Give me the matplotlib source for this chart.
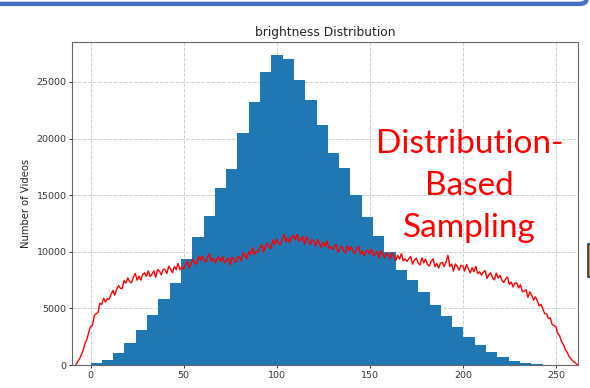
import numpy as np
import matplotlib
matplotlib.use('Agg')
import matplotlib.pyplot as plt
from matplotlib.patches import FancyBboxPatch, Rectangle

# ── Data ──────────────────────────────────────────────────────────────────────
# histogram: 42 bins over 0..255, counts per bin
BIN_LO, BIN_HI, N_BINS = 0, 255, 42
hist_counts = [170, 460, 1040, 1950, 3120, 4460, 5870, 7260, 9380, 11320,
               13150, 15640, 17350, 20480, 23260, 25900, 27350, 27030, 25170, 23410,
               21240, 18770, 17410, 15000, 13060, 11410, 9960, 8430, 7500, 6450,
               5320, 4360, 3380, 2500, 1750, 1200, 710, 390, 220, 90,
               20, 5]

# sampled distribution curve (red), one value per integer from -8 to 262
curve_start = -8
curve_vals = [
    0, 300, 520, 900, 1300, 1900, 2250, 2900,
    3420, 3500, 4380, 4540, 4660, 5460, 5360, 5900, 5560, 5860,
    5820, 6250, 6590, 6165, 6685, 7025, 6785, 6770, 7475, 7235,
    7700, 7360, 7270, 7780, 8090, 7500, 7850, 7500, 8000, 8150,
    7850, 8330, 7810, 8040, 8320, 7750, 8440, 8280, 7970, 8460,
    8450, 8090, 8730, 8470, 8160, 8700, 8440, 8980, 8420, 8660,
    8500, 8880, 9160, 8590, 9070, 9350, 9000, 8900, 9600, 9250,
    9650, 9250, 9100, 9550, 9800, 9150, 9430, 9010, 9440, 9520,
    9150, 9590, 9030, 9220, 9460, 8850, 9530, 9370, 9050, 9530,
    9565, 9205, 9945, 9695, 9390, 10020, 9750, 10370, 9770, 10060,
    9980, 10370, 10650, 9995, 10495, 10775, 10395, 10290, 11065, 10685,
    11130, 10750, 10645, 11200, 11535, 10880, 11230, 10810, 11325, 11455,
    11090, 11555, 10920, 11110, 11355, 10665, 11330, 11060, 10625, 11070,
    10950, 10520, 11090, 10760, 10380, 10850, 10500, 10950, 10300, 10450,
    10200, 10470, 10640, 9960, 10330, 10500, 10080, 9920, 10550, 10130,
    10450, 10020, 9840, 10260, 10480, 9800, 10080, 9660, 10090, 10170,
    9800, 10230, 9660, 9840, 10070, 9450, 10070, 9840, 9460, 9880,
    9800, 9370, 9940, 9610, 9230, 9700, 9370, 9840, 9210, 9380,
    9150, 9420, 9590, 8910, 9280, 9450, 9020, 8840, 9460, 9030,
    9350, 8920, 8740, 9160, 9380, 8700, 8980, 8560, 8990, 9070,
    8700, 9120, 9700, 8710, 8930, 8300, 8940, 8730, 8370, 8810,
    8750, 8310, 8870, 8530, 8140, 8600, 8260, 8720, 8080, 8240,
    7950, 8200, 8350, 7650, 8000, 8150, 7710, 7520, 8130, 7690,
    7920, 7490, 7285, 7620, 7775, 7120, 7330, 6900, 7245, 7265,
    6810, 7095, 6480, 6540, 6645, 5985, 6460, 6170, 5735, 6030,
    5690, 5230, 5370, 4970, 4540, 4520, 4110, 4170, 3580, 3500,
    3400, 2800, 2600, 2100, 1850, 1400, 1150, 780, 580, 380, 260, 110, 0,
]

X_TICKS = [0, 50, 100, 150, 200, 250]
Y_TICKS = [0, 5000, 10000, 15000, 20000, 25000]
LABEL_TEXT = 'Distribution-\nBased\nSampling'

# ── Figure ────────────────────────────────────────────────────────────────────
fig = plt.figure(figsize=(5.9, 3.88), dpi=100)
ax = fig.add_axes([0.122, 0.059, 0.858, 0.833])

edges = np.linspace(BIN_LO, BIN_HI, N_BINS + 1)
ax.bar(edges[:-1], hist_counts, width=np.diff(edges), align='edge',
       color='#1f77b4', linewidth=0, zorder=2)

xs = np.arange(curve_start, curve_start + len(curve_vals))
ax.plot(xs, curve_vals, color='#ff0000', linewidth=1.0, zorder=3)

ax.set_xlim(-10, 262)
ax.set_ylim(0, 28540)
ax.set_xticks(X_TICKS)
ax.set_yticks(Y_TICKS)
ax.tick_params(labelsize=6.8, length=2.5, width=0.7, pad=1.5, colors='#333333')
ax.set_axisbelow(True)
ax.grid(True, linestyle='--', color='#d0d0d0', linewidth=0.7)
for sp in ax.spines.values():
    sp.set_color('#666666')
    sp.set_linewidth(0.8)

ax.set_title('brightness Distribution', fontsize=8.8, color='#222222', pad=4)
ax.set_ylabel('Number of Videos', fontsize=7.2, color='#222222', labelpad=4)

ax.text(0.785, 0.555, LABEL_TEXT, transform=ax.transAxes, ha='center', va='center',
        color='#ff0000', fontsize=24, family='Lato', linespacing=1.5, zorder=4)

# slide decoration: box edge at top and a small box at the right border
fig.patches.append(FancyBboxPatch((-0.02, 0.99), 1.014, 0.2, transform=fig.transFigure,
                                  boxstyle='round,pad=0,rounding_size=0.012',
                                  facecolor='none', edgecolor='#4472c4', linewidth=3.2))
fig.patches.append(Rectangle((0.997, 0.285), 0.02, 0.085, transform=fig.transFigure,
                             facecolor='#d4a017', edgecolor='#1f3864', linewidth=1.2))

plt.savefig('out.png', dpi=100)
